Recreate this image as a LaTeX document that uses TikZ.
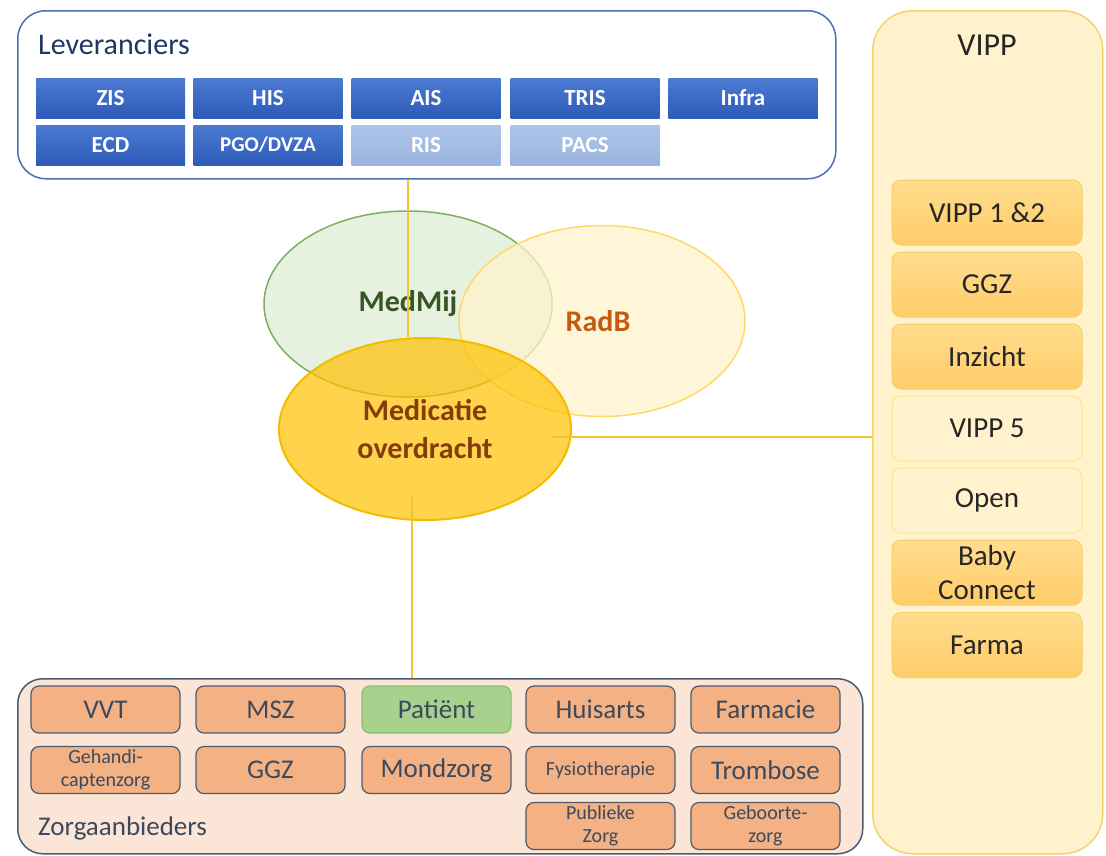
\documentclass[tikz,border=0pt]{standalone}
\usepackage{fontspec}
\setmainfont{Carlito}
\usetikzlibrary{shapes.geometric,calc}
\definecolor{levb}{HTML}{4A6FB5}
\definecolor{blutop}{HTML}{4C7BD2}
\definecolor{blubot}{HTML}{2D5BB8}
\definecolor{lbtop}{HTML}{ADC5EA}
\definecolor{lbbot}{HTML}{9AB4DE}
\definecolor{levtxt}{HTML}{1F3864}
\definecolor{vippfill}{HTML}{FFF2CC}
\definecolor{vippdraw}{HTML}{F3D36E}
\definecolor{itemtop}{HTML}{FFDD8F}
\definecolor{itembot}{HTML}{FFCC66}
\definecolor{itemdraw}{HTML}{F5CF6A}
\definecolor{lightitem}{HTML}{FFF2CC}
\definecolor{lightdraw}{HTML}{FFE38C}
\definecolor{zfill}{HTML}{FBE5D6}
\definecolor{zdraw}{HTML}{4D5B6E}
\definecolor{ofill}{HTML}{F4B183}
\definecolor{gfill}{HTML}{A9D18E}
\definecolor{gdraw}{HTML}{8BBF6A}
\definecolor{ztxt}{HTML}{3B4A5E}
\definecolor{mmfill}{HTML}{E2F0D9}
\definecolor{mmdraw}{HTML}{7FAE5E}
\definecolor{mmtxt}{HTML}{375623}
\definecolor{rbfill}{HTML}{FFF2CC}
\definecolor{rbdraw}{HTML}{FFD966}
\definecolor{rbtxt}{HTML}{C55A11}
\definecolor{mofill}{HTML}{FFC000}
\definecolor{modraw}{HTML}{F2BC00}
\definecolor{motxt}{HTML}{843C0C}
\definecolor{conncol}{HTML}{F2C230}
\tikzset{
  blubox/.style={rectangle, inner sep=0pt, minimum width=149, minimum height=40,
    top color=blutop, bottom color=blubot, text=white,
    font=\bfseries\fontsize{23}{25}\selectfont},
  lbbox/.style={blubox, top color=lbtop, bottom color=lbbot},
  vitem/.style={rectangle, rounded corners=9, inner sep=0pt, minimum width=190, minimum height=65,
    top color=itemtop, bottom color=itembot, draw=itemdraw, line width=1,
    text=black!85, align=center, font=\fontsize{29}{30}\selectfont},
  vlight/.style={vitem, top color=lightitem, bottom color=lightitem, draw=lightdraw},
  zitem/.style={rectangle, rounded corners=8, inner sep=0pt, minimum width=149, minimum height=47,
    fill=ofill, draw=zdraw, line width=1.2, text=ztxt, align=center,
    font=\fontsize{27}{28}\selectfont},
  zsmall/.style={zitem, font=\fontsize{20}{23}\selectfont},
  venn/.style={ellipse, inner sep=0pt, line width=1.5, text opacity=1,
    font=\bfseries\fontsize{30}{33}\selectfont, align=center},
  conn/.style={conncol, line width=2}
}
\begin{document}
\begin{tikzpicture}[x=1pt,y=-1pt]
\useasboundingbox (0,0) rectangle (1106,855);
% Leveranciers
\node[draw=levb, fill=white, line width=1.5, rounded corners=28, inner sep=0pt,
  minimum width=818, minimum height=168, anchor=north west] (lev) at (17,10) {};
\node[anchor=west, text=levtxt, font=\fontsize{30}{32}\selectfont, inner sep=0pt] (levt) at (38,44) {Leveranciers};
\node[blubox] (zis) at (110.5,98) {ZIS};
\node[blubox] (his) at (268,98) {HIS};
\node[blubox] (ais) at (426,98) {AIS};
\node[blubox] (tris) at (585,98) {TRIS};
\node[blubox] (infra) at (743,98) {Infra};
\node[blubox] (ecd) at (110.5,145) {ECD};
\node[blubox, font=\bfseries\fontsize{21}{23}\selectfont] (pgo) at (268,145) {PGO/DVZA};
\node[lbbox] (ris) at (426,145) {RIS};
\node[lbbox] (pacs) at (585,145) {PACS};
% VIPP
\node[fill=vippfill, draw=vippdraw, line width=1.5, rounded corners=40, inner sep=0pt,
  minimum width=230, minimum height=843, anchor=north west] (vipp) at (872,10) {};
\node[text=black!85, font=\fontsize{32}{34}\selectfont, inner sep=0pt] (vippt) at (987,45) {VIPP};
\node[vitem] (v12) at (987,212.5) {VIPP 1 \&2};
\node[vitem] (vggz) at (987,284.5) {GGZ};
\node[vitem] (vinz) at (987,356.5) {Inzicht};
\node[vlight] (v5) at (987,428.5) {VIPP 5};
\node[vlight] (vopen) at (987,500.5) {Open};
\node[vitem, font=\fontsize{29}{34}\selectfont] (vbaby) at (987,572.5) {Baby\\Connect};
\node[vitem] (vfarma) at (987,645) {Farma};
% Zorgaanbieders
\node[fill=zfill, draw=zdraw, line width=1.5, rounded corners=25, inner sep=0pt,
  minimum width=845, minimum height=175, anchor=north west] (zorg) at (17,678) {};
\node[anchor=west, text=ztxt, font=\fontsize{27}{29}\selectfont, inner sep=0pt] (zorgt) at (38,828) {Zorgaanbieders};
\node[zitem] (vvt) at (105.5,709.5) {VVT};
\node[zitem] (msz) at (270.5,709.5) {MSZ};
\node[zitem, fill=gfill, draw=gdraw] (pat) at (436.5,709.5) {Patiënt};
\node[zitem] (huis) at (600.5,709.5) {Huisarts};
\node[zitem] (farm) at (765.5,709.5) {Farmacie};
\node[zsmall] (geh) at (105.5,770) {Gehandi-\\captenzorg};
\node[zitem] (zggz) at (270.5,770) {GGZ};
\node[zitem] (mond) at (436.5,770) {Mondzorg};
\node[zsmall] (fys) at (600.5,770) {Fysiotherapie};
\node[zitem] (trom) at (765.5,770) {Trombose};
\node[zsmall] (pub) at (600.5,826) {Publieke\\Zorg};
\node[zsmall] (geb) at (765.5,826) {Geboorte-\\zorg};
% Venn ellipses
\node[venn, minimum width=288, minimum height=186, fill=mmfill, fill opacity=0.85, draw=mmdraw, text=mmtxt] (medmij) at (408,304) {MedMij};
\node[venn, minimum width=286, minimum height=191, fill=rbfill, fill opacity=0.75, draw=rbdraw, text=rbtxt] (radb) at (602,321) {\hspace*{-8pt}RadB};
\node[venn, minimum width=292, minimum height=182, fill=mofill, fill opacity=0.7, draw=modraw, line width=2, text=motxt,
  font=\bfseries\fontsize{30}{38}\selectfont] (medo) at (425,429) {Medicatie\\overdracht};
% connectors
\coordinate (lx) at (408,0);
\coordinate (bx) at (412,497);
\coordinate (rx) at (553,437);
\draw[conn] (lx |- lev.south) -- (lx |- medo.north);
\draw[conn] (bx) -- (bx |- zorg.north);
\draw[conn] (rx) -- (rx -| vipp.west);
\end{tikzpicture}
\end{document}
